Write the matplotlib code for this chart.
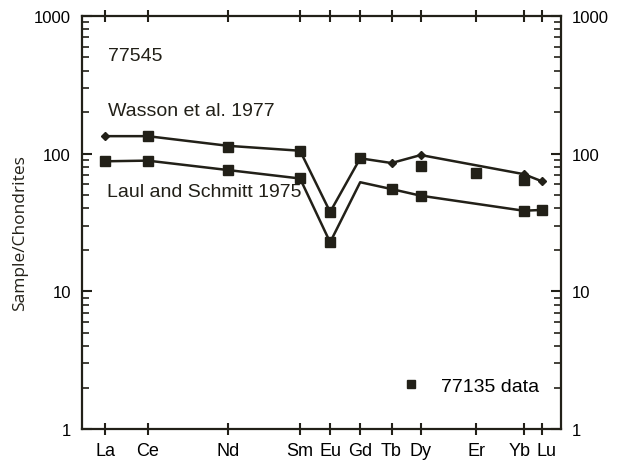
"""REE chondrite-normalised pattern for 77545 vs 77135."""

import matplotlib.pyplot as plt
import matplotlib.transforms as mtransforms
from matplotlib.ticker import LogLocator, NullFormatter, FixedLocator

elements = ["La", "Ce", "Nd", "Sm", "Eu", "Gd", "Tb", "Dy", "Er", "Yb", "Lu"]
element_pos = [0.0, 1.0, 2.9, 4.6, 5.31, 6.02, 6.76, 7.45, 8.76, 9.88, 10.31]

# Wasson et al. 1977 (no Er)
wasson_el = ["La", "Ce", "Nd", "Sm", "Eu", "Gd", "Tb", "Dy", "Yb", "Lu"]
wasson_val = [134, 134, 114, 105, 37.7, 92.5, 85.5, 97.7, 71, 63]

# Laul and Schmitt 1975 (no Er)
laul_el = ["La", "Ce", "Nd", "Sm", "Eu", "Gd", "Tb", "Dy", "Yb", "Lu"]
laul_val = [88, 89, 76, 66, 22.7, 62, 55.3, 49.5, 38.5, 39]

# 77135 data
data_el = ["Ce", "Nd", "Sm", "Eu", "Gd", "Dy", "Er", "Yb"]
data_val = [134, 112, 104, 38, 92.5, 81.7, 72.3, 64.7]

pos = dict(zip(elements, element_pos))
ink = "#222018"
FONT = "Liberation Sans"

fig = plt.figure(figsize=(6.22, 4.64), dpi=100)
ax = fig.add_axes([0.1318, 0.0733, 0.7700, 0.8901])

ax.plot([pos[e] for e in wasson_el], wasson_val, color=ink, lw=1.8,
        marker="D", ms=4.5, zorder=3)
ax.plot([pos[e] for e in laul_el], laul_val, color=ink, lw=1.8,
        marker="s", ms=6.5, markevery=[0, 1, 2, 3, 4, 6, 7, 8, 9], zorder=3)
ax.plot([pos[e] for e in data_el], data_val, ls="none", color=ink,
        marker="s", ms=6.5, zorder=4, label="77135 data")

ax.set_yscale("log")
ax.set_ylim(1, 1000)
ax.set_xlim(-0.55, 10.76)

ax.set_xticks(element_pos)
ax.set_xticklabels(elements, fontsize=13, family=FONT)
ax.tick_params(axis="x", direction="inout", length=9, width=1.5,
               top=True, pad=5, color=ink)
# the last two labels sit very close: nudge them apart
for lab, dx in zip(ax.get_xticklabels()[-2:], (-3, 3)):
    lab.set_transform(lab.get_transform() +
                      mtransforms.ScaledTranslation(dx / 72, 0, fig.dpi_scale_trans))

ax.yaxis.set_major_locator(FixedLocator([1, 10, 100, 1000]))
ax.yaxis.set_minor_locator(LogLocator(base=10, subs=range(2, 10)))
ax.yaxis.set_minor_formatter(NullFormatter())
ax.set_yticklabels(["1", "10", "100", "1000"], fontsize=12, family=FONT)
ax.tick_params(axis="y", which="major", direction="in", length=7, width=1.5,
               right=True, labelright=True, pad=8, color=ink)
ax.tick_params(axis="y", which="minor", direction="in", length=5, width=1.2,
               right=True, color=ink)
for t in ax.yaxis.get_major_ticks():
    t.label2.set_fontsize(12)
    t.label2.set_family(FONT)

for sp in ax.spines.values():
    sp.set_linewidth(1.6)
    sp.set_color(ink)

ax.text(0.055, 0.905, "77545", transform=ax.transAxes, fontsize=14,
        family=FONT, va="center", color=ink)
ax.text(0.055, 0.772, "Wasson et al. 1977", transform=ax.transAxes, fontsize=14,
        family=FONT, va="center", color=ink)
ax.text(0.052, 0.575, "Laul and Schmitt 1975", transform=ax.transAxes, fontsize=14,
        family=FONT, va="center", color=ink)

fig.text(0.032, 0.498, "Sample/Chondrites", rotation=90, fontsize=12.5,
         family="Open Sans", va="center", ha="center", color=ink)

ax.legend(loc="lower right", bbox_to_anchor=(0.99, 0.04), frameon=False,
          prop={"family": FONT, "size": 14}, handletextpad=0.5,
          markerscale=0.85)

fig.savefig("out.png", dpi=100)
